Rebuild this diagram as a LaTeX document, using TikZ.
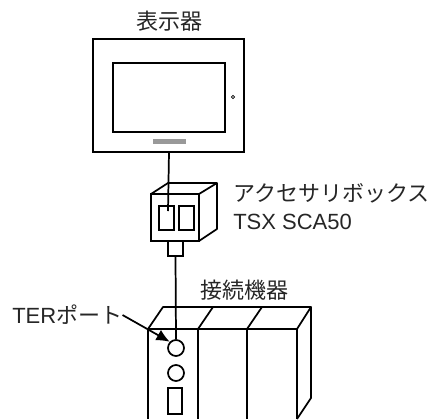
\documentclass[tikz,border=0pt]{standalone}
\usepackage{fontspec}
\setmainfont{Liberation Sans}
\newfontfamily\jpfont{Noto Sans CJK JP}
\usetikzlibrary{arrows.meta}

\begin{document}
\begin{tikzpicture}[x=0.75pt,y=-0.75pt,
    part/.style={draw,line width=1.6pt,inner sep=0pt,outer sep=0pt},
    thin part/.style={draw,line width=1.3pt,inner sep=0pt,outer sep=0pt},
    label/.style={inner sep=0pt,text=black!85,font=\fontsize{16.5pt}{18pt}\selectfont}]
    \useasboundingbox (0,0) rectangle (436,419);
    % Display
    \node[label] (displaytext) at (169,21) {\jpfont 表示器};
    \node[part,minimum width=113.25pt,minimum height=84.75pt] (display) at (168.5,95.5) {};
    \node[part,minimum width=84pt,minimum height=51.75pt] (screen) at (169,97.5) {};
    \node[draw,circle,line width=0.5pt,minimum size=2.5pt,inner sep=0pt] (lamp) at (233,97) {};
    \node[fill=black!40,minimum width=24.75pt,minimum height=3.75pt,inner sep=0pt] (bar) at (169.5,141.5) {};
    % Accessory box
    \draw[line width=1.3pt,line join=round] (151,194) -- (168,183) -- (217,183) -- (217,229) -- (199,241)
        (199,194) -- (217,183);
    \node[thin part,minimum width=36pt,minimum height=35.25pt] (box) at (175,217.5) {};
    \node[thin part,minimum width=11.25pt,minimum height=18pt] (slotleft) at (166.5,218) {};
    \node[thin part,minimum width=11.25pt,minimum height=18pt] (slotright) at (186.5,218) {};
    \node[thin part,minimum width=11.25pt,minimum height=11.25pt] (plug) at (175.5,248.5) {};
    \coordinate (cableend) at (168,211);
    \node[label,anchor=west] (boxtext) at (233,193) {\jpfont アクセサリボックス};
    \node[label,anchor=west] (modeltext) at (233,222) {TSX SCA50};
    % Connected device
    \node[label] (devicetext) at (244,290) {\jpfont 接続機器};
    \draw[line width=1.3pt,line join=round] (148,329) -- (163,307) -- (311,307) -- (297,329) -- (148,329)
        (198,329) -- (213,307) (247,329) -- (262,307)
        (311,307) -- (311,398) -- (297,419);
    \draw[line width=1.3pt] (148,329) -- (148,419) (297,329) -- (297,419);
    \draw[line width=1.6pt] (198,329) -- (198,419) (247,329) -- (247,419);
    \node[draw,circle,line width=1.3pt,minimum size=12pt,inner sep=0pt] (port) at (176,348) {};
    \node[draw,circle,line width=1.3pt,minimum size=12pt,inner sep=0pt] (lamptwo) at (176,373) {};
    \node[thin part,minimum width=10.5pt,minimum height=19.5pt] (socket) at (175,401) {};
    \node[label,anchor=west] (portlabel) at (12,315) {TER\jpfont ポート};
    % Cables
    \draw[line width=1.3pt] (display.south -| screen) -- (cableend);
    \draw[line width=1.3pt] (plug.south) -- (port.north);
    \draw[-{Latex[length=10pt,width=9pt]},line width=1.3pt] (portlabel.east) -- (port.north west);
\end{tikzpicture}
\end{document}
